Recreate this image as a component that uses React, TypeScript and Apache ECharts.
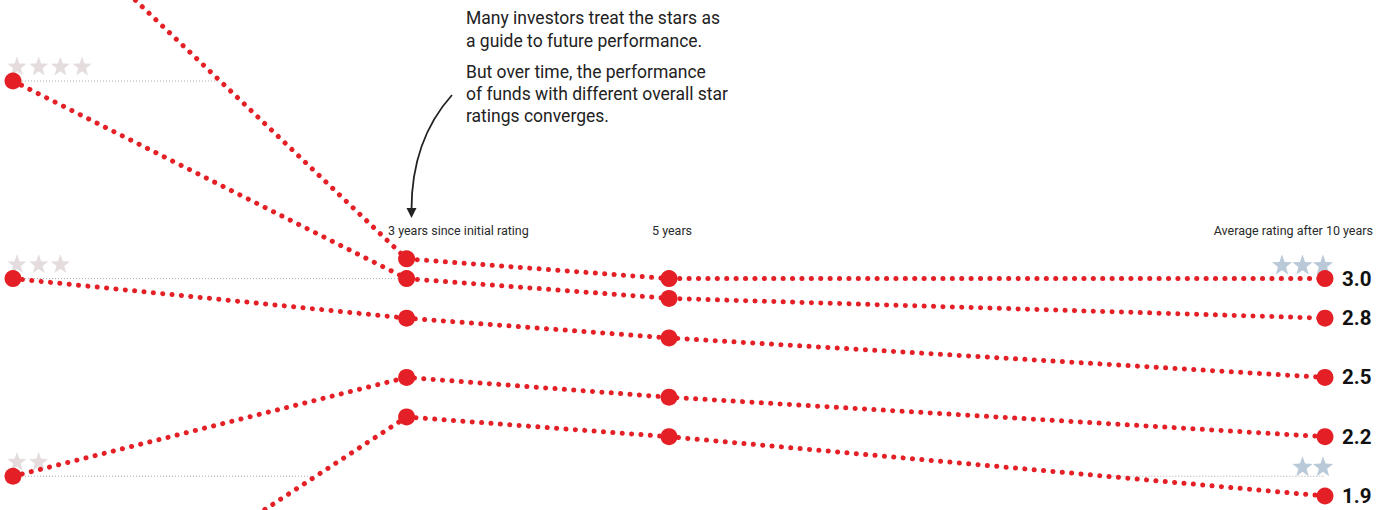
import React, { useEffect, useRef } from "react";
import * as echarts from "echarts";

// ---- data ----
const years = [0, 3, 5, 10];
const fiveStar = [5.0, 3.1, 3.0, 3.0];
const fourStar = [4.0, 3.0, 2.9, 2.8];
const threeStar = [3.0, 2.8, 2.7, 2.5];
const twoStar = [2.0, 2.5, 2.4, 2.2];
const oneStar = [1.0, 2.3, 2.2, 1.9];
const ratingSeries = [fiveStar, fourStar, threeStar, twoStar, oneStar];

const colHeaders = ["3 years since initial rating", "5 years", "Average rating after 10 years"];
const noteLines1 = ["Many investors treat the stars as", "a guide to future performance."];
const noteLines2 = ["But over time, the performance", "of funds with different overall star", "ratings converges."];

// initial star marks (left) and final star marks (right)
const leftStarLevels = [4, 3, 2];
const rightStarLevels = [3, 2];

const RED = "#e41f26";

function crossing(vals: number[], level: number, from: number): number {
  for (let i = from; i < vals.length - 1; i++) {
    const a = vals[i], b = vals[i + 1];
    if ((a - level) * (b - level) <= 0 && a !== b) {
      return years[i] + ((level - a) / (b - a)) * (years[i + 1] - years[i]);
    }
  }
  return years[years.length - 1];
}

function starPath(): string {
  const pts: string[] = [];
  for (let i = 0; i < 10; i++) {
    const r = i % 2 === 0 ? 10 : 4.1;
    const a = -Math.PI / 2 + (i * Math.PI) / 5;
    pts.push(`${(10 + r * Math.cos(a)).toFixed(2)},${(10 + r * Math.sin(a)).toFixed(2)}`);
  }
  return "path://M" + pts.join(" L") + " Z";
}

export default function App() {
  const ref = useRef<HTMLDivElement>(null);
  useEffect(() => {
    if (!ref.current) return;
    const chart = echarts.init(ref.current, undefined, { renderer: "svg" });
    const star = starPath();

    const redSeries = ratingSeries.map((vals, k) => ({
      type: "line",
      name: `s${k}`,
      data: years.map((y, i) => [y, vals[i]]),
      clip: false,
      symbol: "circle",
      symbolSize: 17,
      showSymbol: true,
      silent: true,
      z: 3,
      itemStyle: { color: RED },
      lineStyle: { color: RED, width: 5, type: [0.1, 9.3], cap: "round" },
      endLabel: {
        show: true,
        distance: 17,
        formatter: (p: any) => Number(p.value[1]).toFixed(1),
        fontFamily: "Roboto",
        fontWeight: "bold",
        fontSize: 20.5,
        color: "#111",
      },
    }));

    // gray reference lines at initial star levels
    const refSegs: number[][][] = [];
    refSegs.push([[0, 4], [crossing(fiveStar, 4, 0), 4]]);
    refSegs.push([[0, 3], [crossing(fourStar, 3, 0), 3]]);
    refSegs.push([[0, 2], [crossing(oneStar, 2, 0), 2]]);
    refSegs.push([[crossing(oneStar, 2, 2), 2], [10, 2]]);
    const graySeries = refSegs.map((seg) => ({
      type: "line",
      data: seg,
      clip: false,
      showSymbol: false,
      silent: true,
      z: 1,
      lineStyle: { color: "#a9a9a9", width: 1, type: [1, 2] },
    }));

    const leftStars: any[] = [];
    leftStarLevels.forEach((lv) => {
      for (let i = 0; i < lv; i++) {
        leftStars.push({ value: [0, lv], symbolOffset: [4 + i * 21.7, -15] });
      }
    });
    const rightStars: any[] = [];
    rightStarLevels.forEach((lv) => {
      for (let i = 0; i < lv; i++) {
        rightStars.push({ value: [10, lv], symbolOffset: [-2 - (lv - 1 - i) * 20.5, lv === 3 ? -14 : -10] });
      }
    });

    const noteStyle = { fontFamily: "Roboto", fontSize: 17.5, fill: "#222", textVerticalAlign: "middle" };
    const headStyle = { fontFamily: "Liberation Sans Narrow, Roboto", fontSize: 12.5, fill: "#2a2a2a", textVerticalAlign: "middle" };

    chart.setOption({
      animation: false,
      backgroundColor: "#ffffff",
      grid: { left: 13, right: 65, top: 81, bottom: 14 },
      xAxis: { type: "value", min: 0, max: 10, show: false },
      yAxis: { type: "value", min: 1.9, max: 4.0, show: false },
      series: [
        ...graySeries,
        ...redSeries,
        {
          type: "scatter",
          data: leftStars,
          symbol: star,
          symbolSize: 19,
          clip: false,
          silent: true,
          z: 2,
          itemStyle: { color: "#ddd3d4" },
        },
        {
          type: "scatter",
          data: rightStars,
          symbol: star,
          symbolSize: 20,
          clip: false,
          silent: true,
          z: 2,
          itemStyle: { color: "#a8bccd" },
        },
      ],
      graphic: [
        ...noteLines1.map((t, i) => ({
          type: "text",
          x: 466,
          y: 18 + i * 23,
          style: { ...noteStyle, text: t },
        })),
        ...noteLines2.map((t, i) => ({
          type: "text",
          x: 466,
          y: 72 + i * 22,
          style: { ...noteStyle, text: t },
        })),
        { type: "text", x: 388, y: 230, style: { ...headStyle, text: colHeaders[0] } },
        { type: "text", x: 652, y: 230, style: { ...headStyle, text: colHeaders[1] } },
        { type: "text", x: 1373, y: 230, style: { ...headStyle, text: colHeaders[2], textAlign: "right" } },
        {
          type: "bezierCurve",
          shape: { x1: 452, y1: 95, cpx1: 426, cpy1: 124, x2: 411.5, y2: 210, cpx2: 411.5, cpy2: 160 },
          style: { stroke: "#222", lineWidth: 1.8, fill: null },
        },
        {
          type: "polygon",
          shape: { points: [[406.5, 208], [416.5, 208], [411.5, 218]] },
          style: { fill: "#222" },
        },
      ],
    });
    return () => chart.dispose();
  }, []);
  return (
    <div
      ref={ref}
      style={{ position: "absolute", left: 0, top: 0, width: 1390, height: 510 }}
    />
  );
}
